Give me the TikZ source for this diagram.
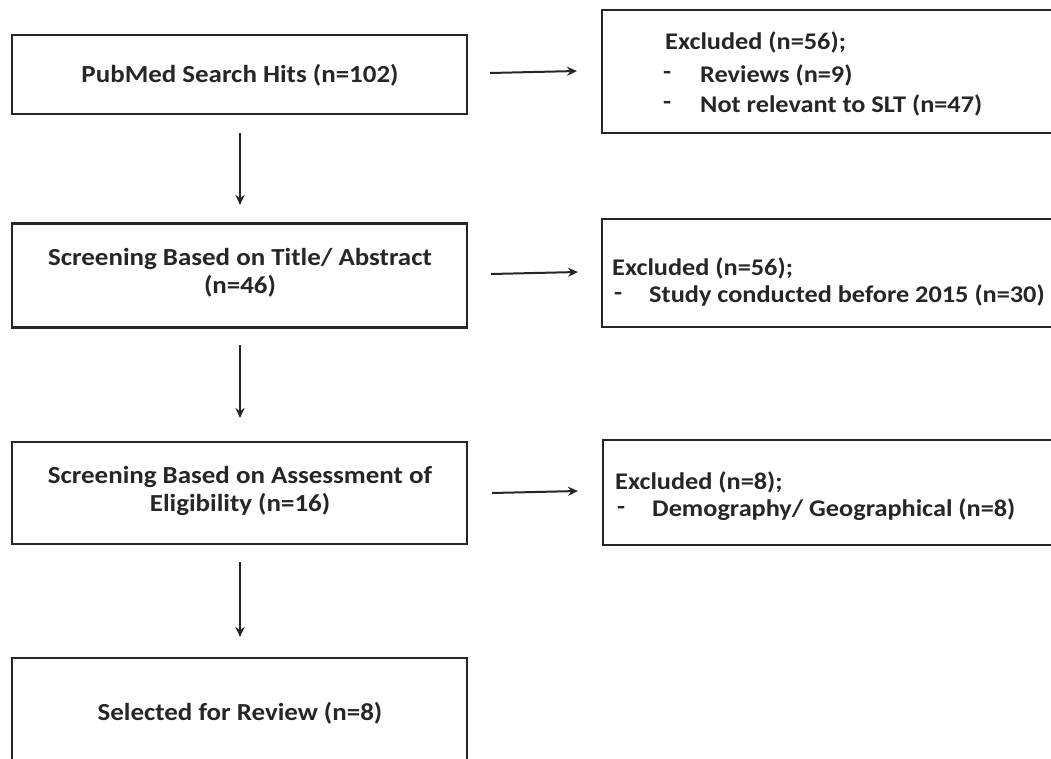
\documentclass[tikz,border=0pt]{standalone}
\usepackage{fontspec}
\setmainfont[FakeStretch=1.1]{Carlito}
\usetikzlibrary{arrows.meta}
\begin{document}
\begin{tikzpicture}[x=1pt,y=-1pt,
  box/.style={draw=black!85, line width=2.4pt, inner sep=0pt},
  lbl/.style={font=\fontsize{24.5}{28}\selectfont\bfseries, text=black!85, inner sep=0pt},
  lblr/.style={lbl, font=\fontsize{23.9}{28}\selectfont\bfseries, anchor=west},
  arr/.style={draw=black!85, line width=2pt, -{Stealth[length=10pt,width=9pt]}}]
\clip (0,0) rectangle (1051,758);
\fill[white] (0,0) rectangle (1051,758);
% left column boxes
\node[box, minimum width=455pt, minimum height=79pt] (b1) at (239.5,74.5) {};
\node[box, minimum width=455pt, minimum height=104pt] (b2) at (239.5,275.5) {};
\node[box, minimum width=455pt, minimum height=102pt] (b3) at (239.5,493) {};
\node[box, minimum width=455pt, minimum height=140pt] (b4) at (239.5,728) {};
% right column boxes
\node[box, minimum width=520pt, minimum height=123pt] (r1) at (862,71.5) {};
\node[box, minimum width=520pt, minimum height=108pt] (r2) at (862,273) {};
\node[box, minimum width=520pt, minimum height=105pt] (r3) at (863,492.5) {};
% texts
\node[lbl] (t1) at (240,75) {PubMed Search Hits (n=102)};
\node[lbl, align=center] (t2) at (240,273) {Screening Based on Title/ Abstract\\(n=46)};
\node[lbl, align=center] (t3) at (240,491) {Screening Based on Assessment of\\Eligibility (n=16)};
\node[lbl] (t4) at (240,713) {Selected for Review (n=8)};
\node[lblr] (e1) at (665,42) {Excluded (n=56);};
\node[lblr] (d1a) at (663,75) {-};
\node[lblr] (e1a) at (700,75) {Reviews (n=9)};
\node[lblr] (d1b) at (663,105) {-};
\node[lblr] (e1b) at (700,105) {Not relevant to SLT (n=47)};
\node[lblr] (e2) at (612,268) {Excluded (n=56);};
\node[lblr] (d2) at (614,296) {-};
\node[lblr] (e2a) at (649,296) {Study conducted before 2015 (n=30)};
\node[lblr] (e3) at (615,482) {Excluded (n=8);};
\node[lblr] (d3) at (617,510) {-};
\node[lblr] (e3a) at (652,510) {Demography/ Geographical (n=8)};
% connectors
\coordinate (a1s) at (490,73); \coordinate (a1e) at (577,71);
\coordinate (a2s) at (491,274); \coordinate (a2e) at (578,272);
\coordinate (a3s) at (492,493); \coordinate (a3e) at (578,491);
\draw[arr] (a1s) -- (a1e);
\draw[arr] (a2s) -- (a2e);
\draw[arr] (a3s) -- (a3e);
\coordinate (v1s) at (240,133); \coordinate (v1e) at (240,205);
\coordinate (v2s) at (240,345); \coordinate (v2e) at (240,418);
\coordinate (v3s) at (240,562); \coordinate (v3e) at (240,637);
\draw[arr] (v1s) -- (v1e);
\draw[arr] (v2s) -- (v2e);
\draw[arr] (v3s) -- (v3e);
\end{tikzpicture}
\end{document}
